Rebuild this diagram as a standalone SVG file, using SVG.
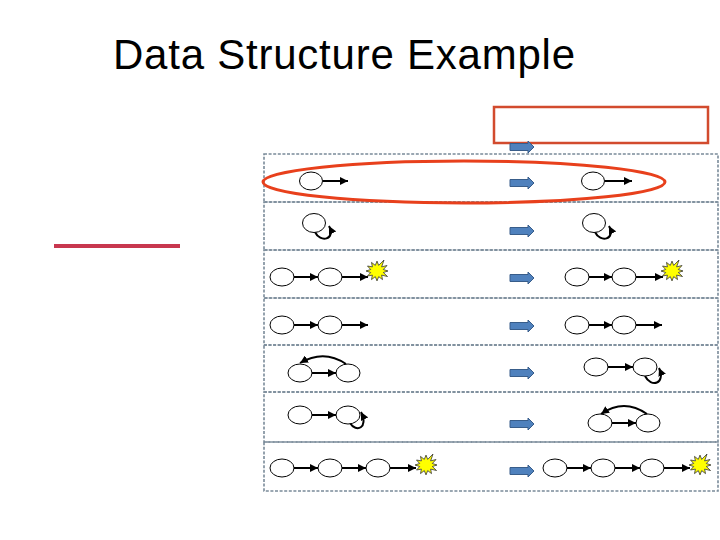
<svg xmlns="http://www.w3.org/2000/svg" xmlns:xlink="http://www.w3.org/1999/xlink" width="720" height="540" viewBox="0 0 720 540">
<style>
.title{font-family:"Liberation Sans",Arial,sans-serif;font-size:42px;fill:#000}
.row{fill:none;stroke:#7A8B99;stroke-width:1.6;stroke-dasharray:3 1.6}
.nd{fill:#fff;stroke:#000;stroke-width:1}
.ln{fill:none;stroke:#000;stroke-width:2;marker-end:url(#ah)}
.star{fill:#FFFF00;stroke:#333;stroke-width:0.8}
.blk{fill:#4F81BD;stroke:#385D8A;stroke-width:1}
</style>
<defs>
<marker id="ah" markerUnits="userSpaceOnUse" markerWidth="9" markerHeight="8" refX="8" refY="4" orient="auto">
<path d="M0,0 L8,4 L0,8 Z" fill="#000"/>
</marker>
<path id="barrow" class="blk" d="M0,-3.5 H18 V-6 L24,0 L18,6 V3.5 H0 Z"/>
<polygon id="star" class="star" points="11,0 6.3,1.5 10.5,5.5 4.6,4.1 5.5,8.6 1.7,5.6 0,9.9 -1.7,5.6 -5.5,8.6 -4.6,4.1 -9.5,5 -6.3,1.5 -11,0 -6.3,-1.5 -9.5,-5 -4.6,-4.1 -5.5,-8.6 -1.7,-5.6 0,-9.9 1.7,-5.6 7,-11 4.6,-4.1 10,-5.5 6.3,-1.5"/>
</defs>
<rect width="720" height="540" fill="#fff"/>
<text class="title" x="113" y="69" textLength="462" lengthAdjust="spacing">Data Structure Example</text>
<line x1="54" y1="246" x2="180" y2="246" stroke="#C8374F" stroke-width="4"/>
<rect x="494" y="107" width="214" height="36" fill="none" stroke="#D24B2E" stroke-width="2.5"/>
<g id="rows">
<rect class="row" x="264" y="154" width="454" height="48"/>
<rect class="row" x="264" y="202" width="454" height="48"/>
<rect class="row" x="264" y="250" width="454" height="48"/>
<rect class="row" x="264" y="298" width="454" height="47"/>
<rect class="row" x="264" y="345" width="454" height="47"/>
<rect class="row" x="264" y="392" width="454" height="50"/>
<rect class="row" x="264" y="442" width="454" height="49"/>
</g>
<g id="block-arrows">
<use xlink:href="#barrow" x="510" y="147"/>
<use xlink:href="#barrow" x="510" y="183"/>
<use xlink:href="#barrow" x="510" y="231"/>
<use xlink:href="#barrow" x="510" y="278"/>
<use xlink:href="#barrow" x="510" y="326"/>
<use xlink:href="#barrow" x="510" y="373"/>
<use xlink:href="#barrow" x="510" y="424"/>
<use xlink:href="#barrow" x="510" y="471"/>
</g>
<g id="connectors">
<line class="ln" x1="323" y1="181" x2="348" y2="181"/>
<line class="ln" x1="605" y1="181" x2="632" y2="181"/>
<path class="ln" d="M315,232 C320,243 336,240 329,226"/>
<path class="ln" d="M595,232 C600,243 616,240 609,226"/>
<line class="ln" x1="294" y1="277" x2="318" y2="277"/>
<line class="ln" x1="342" y1="277" x2="368" y2="277"/>
<line class="ln" x1="589" y1="277" x2="612" y2="277"/>
<line class="ln" x1="636" y1="277" x2="663" y2="277"/>
<line class="ln" x1="294" y1="325" x2="318" y2="325"/>
<line class="ln" x1="342" y1="325" x2="368" y2="325"/>
<line class="ln" x1="589" y1="325" x2="612" y2="325"/>
<line class="ln" x1="636" y1="325" x2="662" y2="325"/>
<line class="ln" x1="312" y1="373" x2="336" y2="373"/>
<path class="ln" d="M346,364 Q324,349 300,363"/>
<line class="ln" x1="608" y1="367" x2="633" y2="367"/>
<path class="ln" d="M645,376 C651,388 666,384 659,368"/>
<line class="ln" x1="312" y1="415" x2="336" y2="415"/>
<path class="ln" d="M350,423 C356,433 369,428 361,412"/>
<line class="ln" x1="612" y1="423" x2="636" y2="423"/>
<path class="ln" d="M647,414 Q624,398 601,414"/>
<line class="ln" x1="294" y1="468" x2="318" y2="468"/>
<line class="ln" x1="342" y1="468" x2="366" y2="468"/>
<line class="ln" x1="390" y1="468" x2="416" y2="468"/>
<line class="ln" x1="567" y1="468" x2="591" y2="468"/>
<line class="ln" x1="615" y1="468" x2="640" y2="468"/>
<line class="ln" x1="664" y1="468" x2="690" y2="468"/>
</g>
<g id="n1a"><ellipse class="nd" cx="311" cy="181" rx="11.5" ry="9"/></g>
<g id="n1b"><ellipse class="nd" cx="593" cy="181" rx="11.5" ry="9"/></g>
<g id="n2a"><ellipse class="nd" cx="314" cy="223" rx="11.5" ry="9.5"/></g>
<g id="n2b"><ellipse class="nd" cx="594" cy="223" rx="11.5" ry="9.5"/></g>
<g id="n3a"><ellipse class="nd" cx="282" cy="277" rx="12" ry="9"/></g>
<g id="n3b"><ellipse class="nd" cx="330" cy="277" rx="12" ry="9"/></g>
<g id="s3a"><use xlink:href="#star" x="377" y="271"/></g>
<g id="n3c"><ellipse class="nd" cx="577" cy="277" rx="12" ry="9"/></g>
<g id="n3d"><ellipse class="nd" cx="624" cy="277" rx="12" ry="9"/></g>
<g id="s3b"><use xlink:href="#star" x="672" y="271"/></g>
<g id="n4a"><ellipse class="nd" cx="282" cy="325" rx="12" ry="9"/></g>
<g id="n4b"><ellipse class="nd" cx="330" cy="325" rx="12" ry="9"/></g>
<g id="n4c"><ellipse class="nd" cx="577" cy="325" rx="12" ry="9"/></g>
<g id="n4d"><ellipse class="nd" cx="624" cy="325" rx="12" ry="9"/></g>
<g id="n5a"><ellipse class="nd" cx="300" cy="373" rx="12" ry="9"/></g>
<g id="n5b"><ellipse class="nd" cx="348" cy="373" rx="12" ry="9"/></g>
<g id="n5c"><ellipse class="nd" cx="596" cy="367" rx="12" ry="9"/></g>
<g id="n5d"><ellipse class="nd" cx="645" cy="367" rx="12" ry="9"/></g>
<g id="n6a"><ellipse class="nd" cx="300" cy="415" rx="12" ry="9"/></g>
<g id="n6b"><ellipse class="nd" cx="348" cy="415" rx="12" ry="9"/></g>
<g id="n6c"><ellipse class="nd" cx="600" cy="423" rx="12" ry="9"/></g>
<g id="n6d"><ellipse class="nd" cx="648" cy="423" rx="12" ry="9"/></g>
<g id="n7a"><ellipse class="nd" cx="282" cy="468" rx="12" ry="9"/></g>
<g id="n7b"><ellipse class="nd" cx="330" cy="468" rx="12" ry="9"/></g>
<g id="n7c"><ellipse class="nd" cx="378" cy="468" rx="12" ry="9"/></g>
<g id="s7a"><use xlink:href="#star" x="426" y="465"/></g>
<g id="n7d"><ellipse class="nd" cx="555" cy="468" rx="12" ry="9"/></g>
<g id="n7e"><ellipse class="nd" cx="603" cy="468" rx="12" ry="9"/></g>
<g id="n7f"><ellipse class="nd" cx="652" cy="468" rx="12" ry="9"/></g>
<g id="s7b"><use xlink:href="#star" x="700" y="465"/></g>
<ellipse cx="464" cy="182" rx="201" ry="21" fill="none" stroke="#E8401C" stroke-width="3"/>
</svg>
